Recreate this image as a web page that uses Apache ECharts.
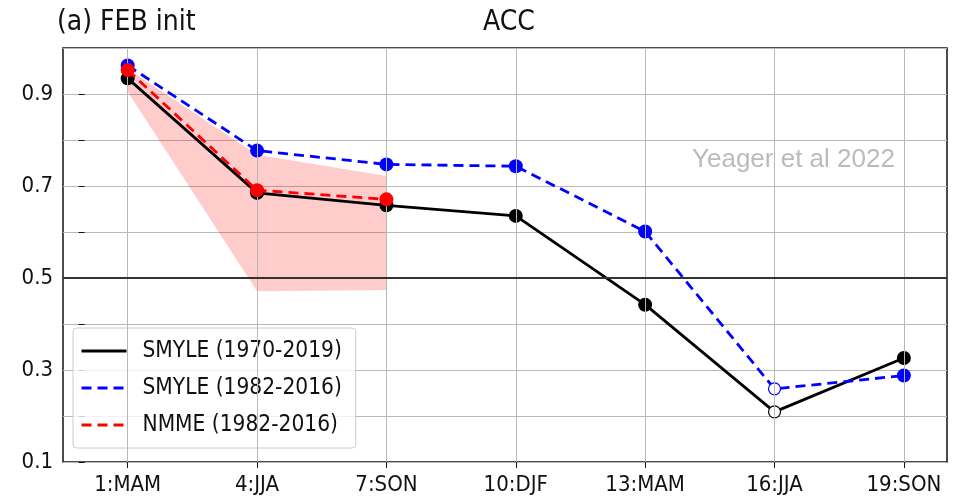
<!DOCTYPE html>
<html><head><meta charset="utf-8">
<script src="https://cdn.jsdelivr.net/npm/echarts@6/dist/echarts.min.js"></script>
<style>html,body{margin:0;padding:0;background:#fff}#c{width:966px;height:498px}</style>
</head><body><div id="c"></div>
<script>
// ---- data ----
var leadMonths = [1, 4, 7, 10, 13, 16, 19];
var leadLabels = ['1:MAM', '4:JJA', '7:SON', '10:DJF', '13:MAM', '16:JJA', '19:SON'];
var yTicks = [0.1, 0.3, 0.5, 0.7, 0.9];
var smyleLong = [0.934, 0.685, 0.658, 0.635, 0.442, 0.209, 0.326];
var smyleLongSig = [true, true, true, true, true, false, true];
var smyleShort = [0.962, 0.777, 0.747, 0.743, 0.601, 0.259, 0.288];
var smyleShortSig = [true, true, true, true, true, false, true];
var nmmeMonths = [1, 4, 7];
var nmme = [0.952, 0.691, 0.671];
var nmmeSig = [true, true, true];
var nmmeLow = [0.905, 0.471, 0.474];
var nmmeHigh = [0.955, 0.768, 0.722];
var refLevel = 0.5;
var seriesNames = ['SMYLE (1970-2019)', 'SMYLE (1982-2016)', 'NMME (1982-2016)'];

var FONT = '"DejaVu Sans Condensed", "DejaVu Sans", sans-serif';

function pts(xs, ys, sig, col) {
  return xs.map(function (x, i) {
    var o = { value: [x, ys[i]] };
    if (!sig[i]) {
      o.itemStyle = { color: '#ffffff', borderColor: col, borderWidth: 1.2 };
      o.symbolSize = 12;
    }
    return o;
  });
}

var chart = echarts.init(document.getElementById('c'), null, { renderer: 'canvas' });
chart.setOption({
  animation: false,
  backgroundColor: '#ffffff',
  title: [
    { text: '(a) FEB init', left: 52, top: 4, textStyle: { fontFamily: FONT, fontSize: 28, fontWeight: 'normal', color: '#111' } },
    { text: 'ACC', left: 504, top: 4, textAlign: 'center', textStyle: { fontFamily: FONT, fontSize: 28, fontWeight: 'normal', color: '#111' } },
    { text: 'Yeager et al 2022', left: 687, top: 142, textStyle: { fontFamily: '"Liberation Sans", Arial, sans-serif', fontSize: 26, fontWeight: 'normal', color: '#bbbbbb' } }
  ],
  grid: { left: 63, right: 19, top: 48, bottom: 36, show: true, borderColor: '#111', borderWidth: 1.5, backgroundColor: 'transparent' },
  legend: {
    orient: 'vertical', left: 73, top: 328,
    data: seriesNames,
    itemWidth: 45, itemHeight: 14, itemGap: 11,
    padding: [10, 14, 10, 7],
    backgroundColor: 'rgba(255,255,255,0.8)',
    borderColor: '#cccccc', borderWidth: 1, borderRadius: 4,
    itemStyle: { opacity: 0 },
    lineStyle: { width: 3 },
    textStyle: { fontFamily: FONT, fontSize: 22.5, color: '#111', lineHeight: 26, padding: [0, 0, 0, 11] }
  },
  xAxis: {
    type: 'value', min: -0.5, max: 20,
    axisLine: { show: false },
    splitLine: { show: false },
    axisTick: { show: true, customValues: leadMonths, length: 6, lineStyle: { color: '#111', width: 1 } },
    axisLabel: {
      customValues: leadMonths, margin: 12,
      fontFamily: FONT, fontSize: 22, color: '#111',
      formatter: function (v) { var i = leadMonths.indexOf(v); return i >= 0 ? leadLabels[i] : ''; }
    }
  },
  yAxis: {
    type: 'value', min: 0.1, max: 1.0, interval: 0.1,
    axisLine: { show: false },
    axisTick: { show: true, length: 6, lineStyle: { color: '#111', width: 1 } },
    splitLine: { show: true, lineStyle: { color: '#b8b8b8', width: 1 } },
    axisLabel: {
      margin: 10, fontFamily: FONT, fontSize: 22, color: '#111',
      showMaxLabel: false,
      formatter: function (v) {
        for (var i = 0; i < yTicks.length; i++) if (Math.abs(yTicks[i] - v) < 1e-6) return yTicks[i].toFixed(1);
        return '';
      }
    }
  },
  series: [
    {
      type: 'custom', z: 1, silent: true,
      renderItem: function (params, api) {
        if (params.dataIndex !== 0) return null;
        var p = [];
        for (var i = 0; i < nmmeMonths.length; i++) p.push(api.coord([nmmeMonths[i], nmmeHigh[i]]));
        for (var j = nmmeMonths.length - 1; j >= 0; j--) p.push(api.coord([nmmeMonths[j], nmmeLow[j]]));
        return { type: 'polygon', shape: { points: p }, style: { fill: 'rgba(255,0,0,0.2)' } };
      },
      data: nmmeMonths.map(function (x, i) { return [x, nmmeLow[i]]; }),
      markLine: {
        silent: true, symbol: 'none', label: { show: false },
        lineStyle: { color: '#b8b8b8', width: 1, type: 'solid' },
        data: leadMonths.map(function (x) { return { xAxis: x }; })
      }
    },
    {
      type: 'line', z: 2, silent: true, data: [],
      markLine: {
        silent: true, symbol: 'none', label: { show: false },
        lineStyle: { color: '#333', width: 2, type: 'solid' },
        data: [{ yAxis: refLevel }]
      }
    },
    {
      name: seriesNames[0], type: 'line', z: 3,
      data: pts(leadMonths, smyleLong, smyleLongSig, '#000'),
      symbol: 'circle', symbolSize: 14,
      itemStyle: { color: '#000' },
      lineStyle: { color: '#000', width: 2.8, type: 'solid' }
    },
    {
      name: seriesNames[1], type: 'line', z: 4,
      data: pts(leadMonths, smyleShort, smyleShortSig, '#0000ff'),
      symbol: 'circle', symbolSize: 14,
      itemStyle: { color: '#0000ff' },
      lineStyle: { color: '#0000ff', width: 2.8, type: [10, 6] }
    },
    {
      name: seriesNames[2], type: 'line', z: 5,
      data: pts(nmmeMonths, nmme, nmmeSig, '#ff0000'),
      symbol: 'circle', symbolSize: 14,
      itemStyle: { color: '#ff0000' },
      lineStyle: { color: '#ff0000', width: 2.8, type: [10, 6] }
    }
  ]
});
</script></body></html>
